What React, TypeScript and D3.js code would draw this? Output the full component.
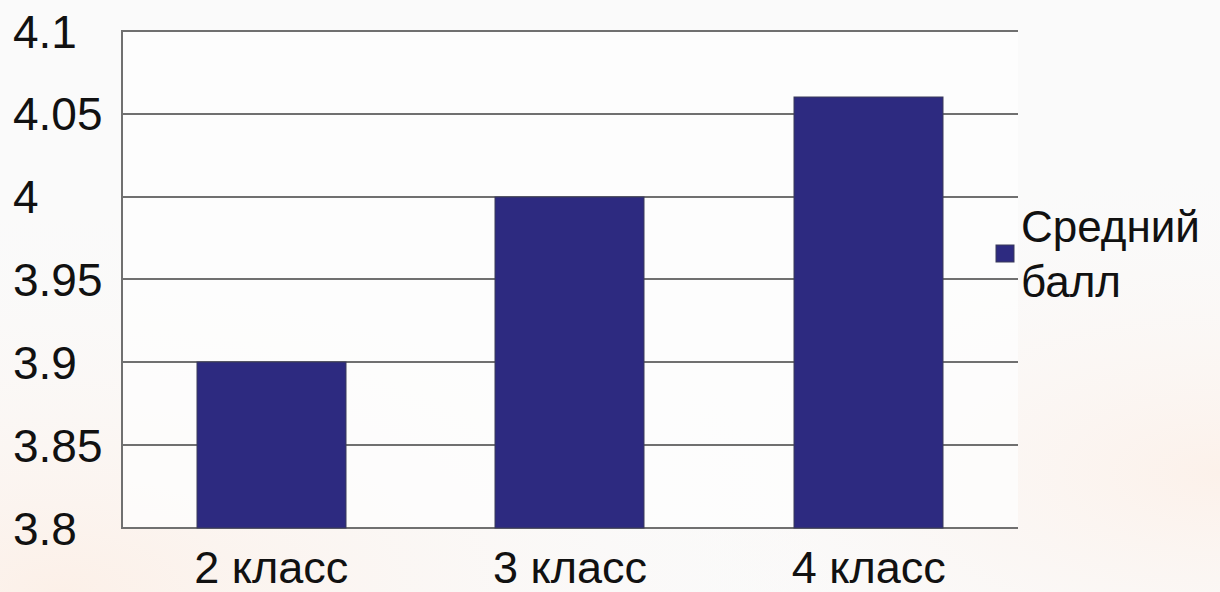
import React from 'react';
import * as d3 from 'd3';

const categories = ['2 класс', '3 класс', '4 класс'];
const averageScore = [3.9, 4.0, 4.06];
const yTicks = [3.8, 3.85, 3.9, 3.95, 4.0, 4.05, 4.1];
const yTickLabels = ['3.8', '3.85', '3.9', '3.95', '4', '4.05', '4.1'];
const seriesName = ['Средний', 'балл'];

const W = 1220;
const H = 592;
const margin = { top: 31, right: 202, bottom: 64, left: 122 };
const barColor = '#2d2a80';
const gridColor = '#707070';
const font = '"Liberation Sans", Arial, sans-serif';

const App: React.FC = () => {
  const x = d3.scaleBand<string>()
    .domain(categories)
    .range([margin.left, W - margin.right])
    .paddingInner(0.5)
    .paddingOuter(0.25);

  const y = d3.scaleLinear()
    .domain([3.8, 4.1])
    .range([H - margin.bottom, margin.top]);

  const x0 = margin.left;
  const x1 = W - margin.right;
  const base = Math.round(y(3.8));

  return (
    <div style={{ position: 'fixed', left: 0, top: 0, width: W, height: H }}>
      <svg width={W} height={H} style={{ display: 'block' }}>
        <defs>
          <radialGradient id="bg-warm" cx="0.05" cy="1" r="0.7">
            <stop offset="0%" stopColor="#fcf0e8" />
            <stop offset="100%" stopColor="#fbfbfb" stopOpacity={0} />
          </radialGradient>
          <radialGradient id="bg-warm2" cx="1" cy="0.8" r="0.55">
            <stop offset="0%" stopColor="#fcf1ea" />
            <stop offset="100%" stopColor="#fbfbfb" stopOpacity={0} />
          </radialGradient>
        </defs>
        <rect width={W} height={H} fill="#fafafa" />
        <rect width={W} height={H} fill="url(#bg-warm)" />
        <rect width={W} height={H} fill="url(#bg-warm2)" />

        {/* plot area */}
        <rect x={x0} y={margin.top} width={x1 - x0} height={base - margin.top} fill="#fdfdfd" fillOpacity={0.75} />

        {/* gridlines */}
        {yTicks.map(t => (
          <line key={t} x1={x0} x2={x1} y1={Math.round(y(t))} y2={Math.round(y(t))} stroke={gridColor} strokeWidth={2} />
        ))}
        <line x1={x0} x2={x0} y1={margin.top - 1} y2={base + 1} stroke={gridColor} strokeWidth={2} />

        {/* bars */}
        {categories.map((c, i) => (
          <rect
            key={c}
            x={Math.round(x(c) ?? 0)}
            y={Math.round(y(averageScore[i]))}
            width={Math.round(x.bandwidth())}
            height={base - Math.round(y(averageScore[i]))}
            fill={barColor}
            stroke="#3a3a5a"
            strokeWidth={1}
          />
        ))}

        {/* y tick labels */}
        {yTicks.map((t, i) => (
          <text key={t} x={13} y={y(t)} dy="0.36em" textAnchor="start"
            fontFamily={font} fontSize={46} fill="#111">
            {yTickLabels[i]}
          </text>
        ))}

        {/* category labels */}
        {categories.map(c => (
          <text key={c} x={(x(c) ?? 0) + x.bandwidth() / 2} y={583} textAnchor="middle"
            fontFamily={font} fontSize={45} fill="#111">
            {c}
          </text>
        ))}

        {/* legend */}
        <rect x={996} y={245} width={18} height={17} fill={barColor} stroke="#3a3a5a" strokeWidth={1} />
        {seriesName.map((s, i) => (
          <text key={s} x={1021} y={242 + i * 55} fontFamily={font} fontSize={44} fill="#111">
            {s}
          </text>
        ))}
      </svg>
    </div>
  );
};

export default App;
